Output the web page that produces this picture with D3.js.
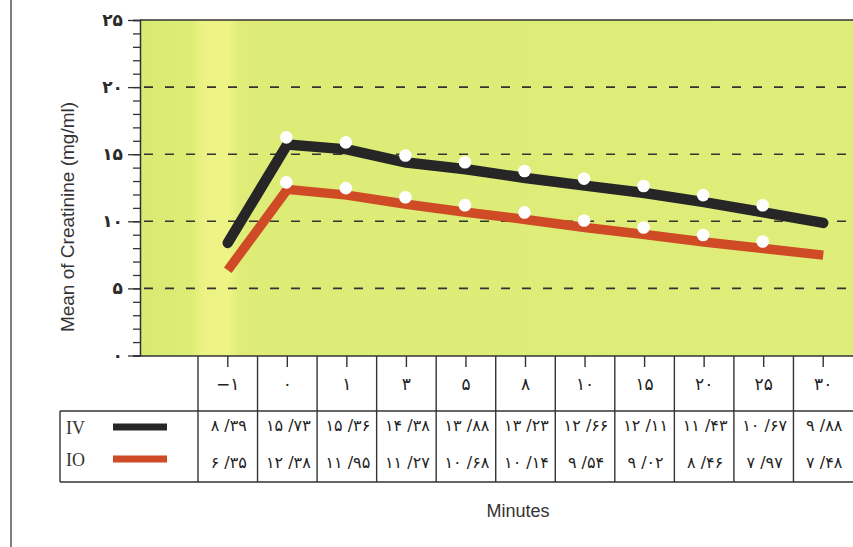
<!DOCTYPE html>
<html><head><meta charset="utf-8">
<script src="https://cdn.jsdelivr.net/npm/d3@7"></script>
<style>
html,body{margin:0;padding:0;background:#fff;}
svg{display:block;}
.fa{font-family:"DejaVu Sans",sans-serif;unicode-bidi:bidi-override;direction:ltr;}
</style></head>
<body>
<svg id="chart" width="853" height="547"></svg>
<script>
// ---- data ----
const minutes = [-1, 0, 1, 3, 5, 8, 10, 15, 20, 25, 30];
const ivValues = [8.39, 15.73, 15.36, 14.38, 13.88, 13.23, 12.66, 12.11, 11.43, 10.67, 9.88];
const ioValues = [6.35, 12.38, 11.95, 11.27, 10.68, 10.14, 9.54, 9.02, 8.46, 7.97, 7.48];
const yTicks = [0, 5, 10, 15, 20, 25];
const seriesNames = ["IV", "IO"];
const seriesColors = ["#262626", "#cf4b26"];

const faDigits = "۰۱۲۳۴۵۶۷۸۹";
const toFa = s => String(s).replace(/[0-9]/g, d => faDigits[+d]).replace("-", "\u2212");
const fmtVal = v => { const [a, b] = v.toFixed(2).split("."); return toFa(a) + " /" + toFa(b); };

const svg = d3.select("#chart");
const W = 853, H = 547;
const plotL = 140, plotR = 853, plotT = 20, plotB = 356;
const tableL = 198, rowH1 = 411, tableB = 482, legendL = 60;

const x = d3.scaleBand().domain(minutes).range([tableL, plotR]);
const xc = m => x(m) + x.bandwidth() / 2;
const y = d3.scaleLinear().domain([0, 25]).range([plotB - 0.5, plotT]);

// outer frame left line
svg.append("line").attr("x1", 11).attr("x2", 11).attr("y1", 0).attr("y2", H)
  .attr("stroke", "#555").attr("stroke-width", 1.5);

// plot background
const defs = svg.append("defs");
const grad = defs.append("linearGradient").attr("id", "bg").attr("x1", 0).attr("x2", 1).attr("y1", 0).attr("y2", 0);
const gx = v => ((v - plotL) / (plotR - plotL));
[[0, "#d9ea73"], [gx(190), "#dcec75"], [gx(203), "#ecf283"], [gx(228), "#eef385"], [gx(240), "#dfed78"], [gx(300), "#dcec76"], [1, "#dfee7a"]]
  .forEach(([o, c]) => grad.append("stop").attr("offset", o).attr("stop-color", c));
svg.append("rect").attr("x", plotL).attr("y", plotT).attr("width", plotR - plotL).attr("height", plotB - plotT)
  .attr("fill", "url(#bg)");

// dashed grid
svg.append("g").selectAll("line").data(yTicks.filter(t => t > 0 && t < 25)).join("line")
  .attr("x1", plotL + 4).attr("x2", plotR).attr("y1", d => y(d)).attr("y2", d => y(d))
  .attr("stroke", "#333").attr("stroke-width", 1.6).attr("stroke-dasharray", "9,12");

// top border of plot
svg.append("line").attr("x1", plotL).attr("x2", plotR).attr("y1", plotT).attr("y2", plotT)
  .attr("stroke", "#333").attr("stroke-width", 1.5);

// y axis with minor ticks
const yAxisG = svg.append("g").attr("transform", `translate(${plotL},0)`);
yAxisG.call(d3.axisLeft(y).tickValues(d3.range(0, 26, 1)).tickSize(7).tickFormat(""));
yAxisG.call(g => g.select(".domain").attr("stroke", "#333").attr("stroke-width", 1.5));
yAxisG.selectAll(".tick line").attr("stroke", "#333").attr("stroke-width", 1.3);
const yMajor = svg.append("g").attr("transform", `translate(${plotL},0)`)
  .call(d3.axisLeft(y).tickValues(yTicks).tickSize(12).tickPadding(5).tickFormat(d => toFa(d)));
yMajor.select(".domain").remove();
yMajor.selectAll(".tick line").attr("stroke", "#333").attr("stroke-width", 1.3);
yMajor.selectAll(".tick text").attr("class", "fa").attr("font-size", 17).attr("font-weight", "bold").attr("fill", "#2a2a2a");

// y title
svg.append("text").attr("transform", "translate(74,217) rotate(-90)")
  .attr("text-anchor", "middle").attr("font-family", "Liberation Sans, Arial, sans-serif")
  .attr("font-size", 19).attr("fill", "#333").text("Mean of Creatinine (mg/ml)");

// lines
const series = [ivValues, ioValues];
const line = d3.line().x((d, i) => xc(minutes[i])).y(d => y(d));
series.forEach((vals, si) => {
  svg.append("path").datum(vals).attr("d", line).attr("fill", "none")
    .attr("stroke", seriesColors[si]).attr("stroke-width", si === 0 ? 10.5 : 9.5)
    .attr("stroke-linejoin", "round").attr("stroke-linecap", si === 0 ? "round" : "butt");
});
// white dots (printed slightly offset)
series.forEach((vals, si) => {
  svg.append("g").attr("transform", "translate(-1,-7)").selectAll("circle")
    .data(vals.map((v, i) => ({ v, m: minutes[i], i })).filter(d => d.i > 0 && d.i < minutes.length - 1))
    .join("circle").attr("cx", d => xc(d.m)).attr("cy", d => y(d.v)).attr("r", 6.3).attr("fill", "#fff");
});

// table
const tg = svg.append("g").attr("stroke", "#333").attr("stroke-width", 1.4);
tg.append("line").attr("x1", plotL).attr("x2", plotR).attr("y1", plotB).attr("y2", plotB);
tg.append("line").attr("x1", legendL).attr("x2", plotR).attr("y1", rowH1).attr("y2", rowH1);
tg.append("line").attr("x1", legendL).attr("x2", plotR).attr("y1", tableB).attr("y2", tableB);
tg.append("line").attr("x1", legendL).attr("x2", legendL).attr("y1", rowH1).attr("y2", tableB);
tg.selectAll(".vl").data(minutes).join("line").attr("class", "vl")
  .attr("x1", d => x(d)).attr("x2", d => x(d)).attr("y1", plotB).attr("y2", tableB);
// column ticks
tg.selectAll(".ct").data(minutes).join("line").attr("class", "ct")
  .attr("x1", d => xc(d)).attr("x2", d => xc(d)).attr("y1", plotB).attr("y2", plotB + 11);

// header labels
svg.append("g").selectAll("text").data(minutes).join("text").attr("class", "fa")
  .attr("x", d => xc(d)).attr("y", 390).attr("text-anchor", "middle")
  .attr("font-size", 17).attr("fill", "#222").text(d => toFa(d));

// value rows
const rowY = [431, 468];
series.forEach((vals, si) => {
  svg.append("g").selectAll("text").data(vals).join("text").attr("class", "fa")
    .attr("x", (d, i) => xc(minutes[i]) + 1).attr("y", rowY[si]).attr("text-anchor", "middle")
    .attr("font-size", 16).attr("fill", "#222").text(d => fmtVal(d));
});

// legend
const legY = [427, 459];
seriesNames.forEach((n, si) => {
  svg.append("text").attr("x", 66).attr("y", legY[si] + 7).attr("font-family", "Liberation Serif, Times New Roman, serif")
    .attr("font-size", 18).attr("fill", "#333").text(n);
  svg.append("line").attr("x1", 113).attr("x2", 167).attr("y1", legY[si]).attr("y2", legY[si])
    .attr("stroke", seriesColors[si]).attr("stroke-width", 7);
});

// x title
svg.append("text").attr("x", 518).attr("y", 517).attr("text-anchor", "middle")
  .attr("font-family", "Liberation Sans, Arial, sans-serif").attr("font-size", 18).attr("fill", "#333").text("Minutes");
</script>
</body></html>
